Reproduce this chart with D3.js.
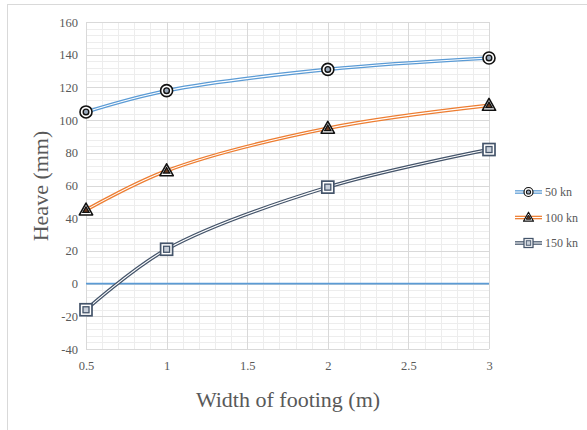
<!DOCTYPE html>
<html>
<head>
<meta charset="utf-8">
<script src="https://cdn.jsdelivr.net/npm/d3@7"></script>
<style>
  body { margin: 0; background: #fff; }
  text { font-family: "Liberation Serif", "Times New Roman", serif; }
</style>
</head>
<body>
<script>
// chart data
const widths = [0.5, 1, 2, 3];
const heave50 = [105, 118, 131, 138];
const heave100 = [45, 69, 95, 109];
const heave150 = [-16, 21, 59, 82];
const seriesNames = ['50 kn', '100 kn', '150 kn'];
const xTicks = [0.5, 1, 1.5, 2, 2.5, 3];
const yTicks = [-40, -20, 0, 20, 40, 60, 80, 100, 120, 140, 160];

const W = 587, H = 430;
const svg = d3.select('body').append('svg')
    .attr('width', W)
    .attr('height', H);

// outer chart border
svg.append('rect')
    .attr('x', 7.5).attr('y', 4.5)
    .attr('width', 590).attr('height', 440)
    .attr('fill', 'none')
    .attr('stroke', '#d9d9d9');

const x = d3.scaleLinear().domain([0.5, 3]).range([86, 489]);
const y = d3.scaleLinear().domain([-40, 160]).range([349, 22]);

// minor grid
const minorX = d3.range(5, 31).map(d => d / 10);
const minorY = d3.range(-40, 161, 4);
svg.append('g').selectAll('line.mx')
    .data(minorX).enter().append('line')
    .attr('x1', d => Math.round(x(d)) + 0.5).attr('x2', d => Math.round(x(d)) + 0.5)
    .attr('y1', y(160)).attr('y2', y(-40))
    .attr('stroke', '#ededed');
svg.append('g').selectAll('line.my')
    .data(minorY).enter().append('line')
    .attr('y1', d => Math.round(y(d)) + 0.5).attr('y2', d => Math.round(y(d)) + 0.5)
    .attr('x1', x(0.5)).attr('x2', x(3))
    .attr('stroke', '#ededed');

// major grid
svg.append('g').selectAll('line')
    .data(xTicks).enter().append('line')
    .attr('x1', d => Math.round(x(d)) + 0.5).attr('x2', d => Math.round(x(d)) + 0.5)
    .attr('y1', y(160)).attr('y2', y(-40))
    .attr('stroke', '#d9d9d9');
svg.append('g').selectAll('line')
    .data(yTicks).enter().append('line')
    .attr('y1', d => Math.round(y(d)) + 0.5).attr('y2', d => Math.round(y(d)) + 0.5)
    .attr('x1', x(0.5)).attr('x2', x(3))
    .attr('stroke', '#d9d9d9');

// zero line
svg.append('line')
    .attr('x1', x(0.5)).attr('x2', x(3))
    .attr('y1', y(0)).attr('y2', y(0))
    .attr('stroke', '#5b9bd5')
    .attr('stroke-width', 1.6);

// axes (labels only, Excel style)
const yAxis = svg.append('g')
    .attr('transform', 'translate(78,0)')
    .call(d3.axisLeft(y).tickValues(yTicks).tickSize(0).tickPadding(0)
        .tickFormat(d => String(d)));
yAxis.select('.domain').remove();
yAxis.selectAll('text')
    .attr('font-size', 12.5)
    .attr('fill', '#595959');

const xAxis = svg.append('g')
    .attr('transform', 'translate(0,361)')
    .call(d3.axisBottom(x).tickValues(xTicks).tickSize(0).tickPadding(0)
        .tickFormat(d => String(d)));
xAxis.select('.domain').remove();
xAxis.selectAll('text')
    .attr('font-size', 12.5)
    .attr('fill', '#595959');

// axis titles
svg.append('text')
    .attr('transform', 'translate(48,186) rotate(-90)')
    .attr('text-anchor', 'middle')
    .attr('font-size', 22)
    .attr('fill', '#595959')
    .text('Heave (mm)');

svg.append('text')
    .attr('x', 288).attr('y', 407)
    .attr('text-anchor', 'middle')
    .attr('font-size', 22)
    .attr('fill', '#595959')
    .text('Width of footing (m)');

// series
const colors = ['#5b9bd5', '#ed7d31', '#44546a'];
const allSeries = [heave50, heave100, heave150];
const line = d3.line()
    .x(d => x(d[0]))
    .y(d => y(d[1]))
    .curve(d3.curveCatmullRom.alpha(0.5));

function drawMarker(g, type, cx, cy, s) {
    // s = scale factor (1 for plot, smaller for legend)
    if (type === 0) {
        g.append('circle').attr('cx', cx).attr('cy', cy).attr('r', 6 * s)
            .attr('fill', '#fff').attr('stroke', '#111').attr('stroke-width', 1.6 * s);
        g.append('circle').attr('cx', cx).attr('cy', cy).attr('r', 2.8 * s)
            .attr('fill', '#9aa9bb').attr('stroke', '#111').attr('stroke-width', 1.4 * s);
    } else if (type === 1) {
        const tri = r => `M${cx},${cy - r} L${cx + r * 0.95},${cy + r * 0.7} L${cx - r * 0.95},${cy + r * 0.7} Z`;
        g.append('path').attr('d', tri(7 * s))
            .attr('fill', '#fff').attr('stroke', '#111').attr('stroke-width', 1.6 * s)
            .attr('stroke-linejoin', 'round');
        g.append('path').attr('d', tri(3.3 * s))
            .attr('fill', '#6b3a1e').attr('stroke', '#111').attr('stroke-width', 1.3 * s);
    } else {
        const h = 6 * s;
        g.append('rect').attr('x', cx - h).attr('y', cy - h).attr('width', 2 * h).attr('height', 2 * h)
            .attr('fill', '#fff').attr('stroke', '#44546a').attr('stroke-width', 1.7 * s);
        g.append('rect').attr('x', cx - h * 0.5).attr('y', cy - h * 0.5).attr('width', h).attr('height', h)
            .attr('fill', '#c9d0da').attr('stroke', '#44546a').attr('stroke-width', 1.3 * s);
    }
}

allSeries.forEach((vals, i) => {
    const pts = widths.map((w, j) => [w, vals[j]]);
    const g = svg.append('g');
    g.append('path').datum(pts)
        .attr('d', line)
        .attr('fill', 'none')
        .attr('stroke', colors[i])
        .attr('stroke-width', 3.6);
    g.append('path').datum(pts)
        .attr('d', line)
        .attr('fill', 'none')
        .attr('stroke', '#fff')
        .attr('stroke-width', 1.1);
    pts.forEach(p => drawMarker(g, i, x(p[0]), y(p[1]), 1));
});

// legend
const legendY = [192, 217.5, 243];
seriesNames.forEach((name, i) => {
    const g = svg.append('g');
    const ly = legendY[i];
    g.append('line').attr('x1', 515).attr('x2', 542).attr('y1', ly).attr('y2', ly)
        .attr('stroke', colors[i]).attr('stroke-width', 3.6);
    g.append('line').attr('x1', 515).attr('x2', 542).attr('y1', ly).attr('y2', ly)
        .attr('stroke', '#fff').attr('stroke-width', 1.1);
    drawMarker(g, i, 528.5, ly, 0.75);
    g.append('text')
        .attr('x', 545).attr('y', ly + 4)
        .attr('font-size', 12)
        .attr('fill', '#595959')
        .text(name);
});
</script>
</body>
</html>
